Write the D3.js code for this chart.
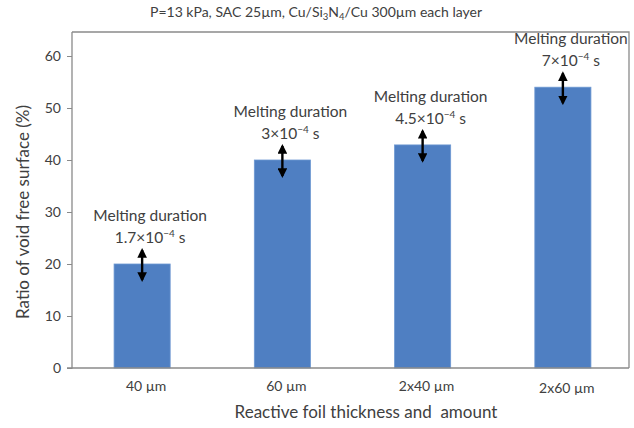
<!DOCTYPE html>
<html lang="en">
  <head>
    <meta charset="UTF-8" />
    <title>Void free surface vs reactive foil</title>
    <script src="https://d3js.org/d3.v7.min.js"></script>
    <style>
      body { margin: 0; background: #fff; }
      text { font-family: Lato, "Liberation Sans", sans-serif; fill: #404040; }
    </style>
  </head>
  <body>
    <svg width="634" height="428"></svg>
    <script>
      // data
      const categories = ["40 µm", "60 µm", "2x40 µm", "2x60 µm"];
      const ratios = [20, 40, 42.9, 54];
      const durationMantissa = ["1.7", "3", "4.5", "7"];
      const durationExp = "−4";
      const yTicks = [0, 10, 20, 30, 40, 50, 60];

      const svg = d3.select("svg");
      const plotLeft = 72, plotRight = 629, plotTop = 32, plotBottom = 368;

      const x = d3.scaleBand().domain(categories).range([plotLeft, 633]).paddingInner(0.6).paddingOuter(0.3);
      const y = d3.scaleLinear().domain([0, 60]).range([plotBottom, 56]);

      // frame (top and right)
      svg.append("path")
        .attr("d", `M${plotLeft},${plotTop}H${plotRight}V${plotBottom}`)
        .attr("fill", "none").attr("stroke", "#8a8a8a").attr("stroke-width", 1.3);

      // bars
      svg.append("g").selectAll("rect")
        .data(ratios)
        .join("rect")
        .attr("x", (d, i) => x(categories[i]))
        .attr("y", d => y(d))
        .attr("width", x.bandwidth())
        .attr("height", d => plotBottom - y(d))
        .attr("fill", "#4f7fc2")
        .attr("stroke", "#6d98d2")
        .attr("stroke-width", 0.8);

      // y axis
      const yAxis = svg.append("g")
        .attr("transform", `translate(${plotLeft},0)`)
        .call(d3.axisLeft(y).tickValues(yTicks).tickSize(5).tickPadding(6));
      yAxis.select(".domain").attr("stroke", "#8a8a8a").attr("stroke-width", 1.3)
        .attr("d", `M-5,${plotBottom}H0V${plotTop}`);
      yAxis.selectAll(".tick line").attr("stroke", "#8a8a8a");
      yAxis.selectAll(".tick text").style("font-size", "14px").attr("fill", "#404040");

      // x axis line
      svg.append("line")
        .attr("x1", plotLeft).attr("x2", plotRight).attr("y1", plotBottom).attr("y2", plotBottom)
        .attr("stroke", "#8a8a8a").attr("stroke-width", 1.3);

      // x tick labels
      svg.append("g").selectAll("text")
        .data(categories)
        .join("text")
        .attr("x", d => x(d) + x.bandwidth() / 2 + 4)
        .attr("y", (d, i) => i === 3 ? 393 : 391)
        .attr("text-anchor", "middle")
        .style("font-size", "14px")
        .text(d => d);

      // double arrows
      const defs = svg.append("defs");
      defs.append("marker")
        .attr("id", "head")
        .attr("viewBox", "0 0 10 10")
        .attr("refX", 8).attr("refY", 5)
        .attr("markerWidth", 4).attr("markerHeight", 4)
        .attr("orient", "auto-start-reverse")
        .append("path").attr("d", "M0,0L10,5L0,10z").attr("fill", "#000");

      svg.append("g").selectAll("line")
        .data(ratios)
        .join("line")
        .attr("x1", (d, i) => x(categories[i]) + x.bandwidth() / 2)
        .attr("x2", (d, i) => x(categories[i]) + x.bandwidth() / 2)
        .attr("y1", d => y(d) - 14)
        .attr("y2", d => y(d) + 16)
        .attr("stroke", "#000").attr("stroke-width", 2.4)
        .attr("marker-start", "url(#head)")
        .attr("marker-end", "url(#head)");

      // annotations
      const ann = svg.append("g").selectAll("g")
        .data(ratios)
        .join("g")
        .attr("transform", (d, i) => `translate(${x(categories[i]) + x.bandwidth() / 2 + 8},${y(d)})`);
      ann.append("text")
        .attr("y", -43)
        .attr("text-anchor", "middle")
        .style("font-size", "15.5px")
        .text("Melting duration");
      const l2 = ann.append("text")
        .attr("y", -21)
        .attr("text-anchor", "middle")
        .style("font-size", "15.5px");
      l2.append("tspan").text((d, i) => durationMantissa[i] + "×10");
      l2.append("tspan").attr("dy", -6).style("font-size", "10px").text(durationExp);
      l2.append("tspan").attr("dy", 6).text(" s");

      // title
      const t = svg.append("text")
        .attr("x", 316).attr("y", 17)
        .attr("text-anchor", "middle")
        .style("font-size", "14px");
      t.append("tspan").text("P=13 kPa, SAC 25µm, Cu/Si");
      t.append("tspan").attr("dy", 3).style("font-size", "9.5px").text("3");
      t.append("tspan").attr("dy", -3).text("N");
      t.append("tspan").attr("dy", 3).style("font-size", "9.5px").text("4");
      t.append("tspan").attr("dy", -3).text("/Cu 300µm each layer");

      // axis titles
      svg.append("text")
        .attr("transform", `translate(29,${(plotTop + plotBottom) / 2 + 12}) rotate(-90)`)
        .attr("text-anchor", "middle")
        .style("font-size", "17px")
        .text("Ratio of void free surface (%)");
      svg.append("text")
        .attr("x", 366).attr("y", 418)
        .attr("text-anchor", "middle")
        .style("white-space", "pre")
        .style("font-size", "17px")
        .text("Reactive foil thickness and  amount");
    </script>
  </body>
</html>
